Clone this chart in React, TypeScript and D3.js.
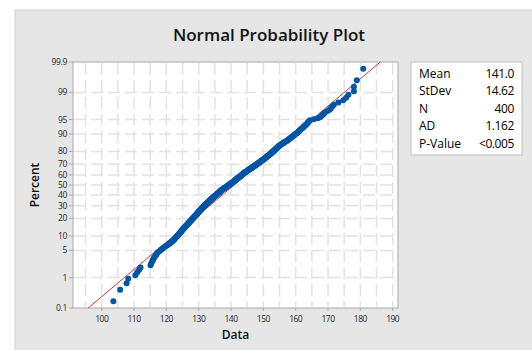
import React, { useRef, useEffect } from 'react';
import * as d3 from 'd3';

// sorted sample values (N = 400)
const sortedData = [
  // ranks 1-18
  103.6, 105.7, 107.7, 108.2, 110.4, 111.0, 111.6, 112.0,
  115.1, 115.3, 115.6, 115.8, 116.0, 116.2, 116.5, 116.8, 117.0, 117.2,
  // 19-46
  117.6, 118.0, 118.3, 118.7, 119.0, 119.4, 119.7, 120.1, 120.5,
  120.8, 121.1, 121.4, 121.6, 121.9, 122.1,
  122.3, 122.5, 122.6, 122.8, 123.0, 123.1, 123.3, 123.5, 123.6, 123.8, 123.9, 124.0, 124.2,
  // 47-91
  124.3, 124.4, 124.6, 124.7, 124.8, 124.9, 125.1, 125.2, 125.3, 125.4, 125.5, 125.7, 125.8,
  125.9, 126.0, 126.2, 126.3, 126.4, 126.5, 126.7, 126.8,
  126.9, 127.0, 127.1, 127.2, 127.3, 127.4, 127.5, 127.6, 127.7, 127.8, 127.9, 128.0,
  128.1, 128.2, 128.3, 128.4, 128.5, 128.6, 128.7, 128.8, 128.9, 129.0, 129.1, 129.2,
  // 92-146
  129.3, 129.4, 129.5, 129.5, 129.6, 129.7, 129.8, 129.9, 130.0, 130.1, 130.1, 130.2, 130.3,
  130.4, 130.5, 130.6, 130.6, 130.7, 130.8, 130.9, 131.0, 131.1, 131.1, 131.2, 131.3, 131.4,
  131.5, 131.6, 131.7, 131.8, 131.9, 132.0, 132.0, 132.1, 132.2, 132.3, 132.4, 132.5, 132.6,
  132.7, 132.8, 132.9, 132.9, 133.0, 133.1, 133.2, 133.3, 133.4, 133.5, 133.6, 133.6, 133.7,
  133.8, 133.9, 134.0,
  // 147-200
  134.1, 134.2, 134.3, 134.4, 134.5, 134.6, 134.6, 134.7, 134.8, 134.9, 135.0, 135.1, 135.2,
  135.3, 135.4, 135.5, 135.5, 135.6, 135.7, 135.8, 135.9, 136.0, 136.1, 136.2, 136.3, 136.4,
  136.4, 136.5, 136.6, 136.7, 136.8, 136.9, 137.0, 137.1,
  137.2, 137.3, 137.4, 137.6, 137.7, 137.8, 137.9, 138.0, 138.1, 138.2, 138.4, 138.5, 138.6,
  138.7, 138.8, 138.9, 139.0, 139.1, 139.2, 139.3,
  // 201-248
  139.4, 139.5, 139.6, 139.7, 139.8, 139.9, 140.0, 140.1, 140.2, 140.3, 140.4, 140.5, 140.6,
  140.7, 140.8, 140.9, 141.0, 141.1, 141.2, 141.3, 141.4, 141.5, 141.6, 141.7, 141.8, 141.9,
  142.0, 142.1, 142.2, 142.3, 142.4, 142.5, 142.7, 142.8,
  142.9, 143.0, 143.1, 143.2, 143.3, 143.3, 143.4, 143.5, 143.6, 143.7, 143.8, 143.8, 143.9, 144.0,
  // 249-291
  144.1, 144.2, 144.4, 144.5, 144.6, 144.7, 144.9, 145.0, 145.1, 145.2, 145.4, 145.5, 145.6,
  145.7, 145.8, 146.0, 146.1, 146.2, 146.3, 146.5, 146.6, 146.7, 146.8, 147.0, 147.1, 147.2,
  147.3, 147.5, 147.6, 147.7, 147.8, 147.9, 148.1, 148.2, 148.3, 148.4, 148.6, 148.7, 148.8,
  148.9, 149.1, 149.2, 149.3,
  // 292-337
  149.4, 149.6, 149.7, 149.8, 149.9, 150.1, 150.2, 150.3, 150.4, 150.6, 150.7, 150.8, 150.9,
  151.1, 151.2, 151.3, 151.4, 151.5, 151.7, 151.8, 151.9, 152.0, 152.2, 152.3, 152.4, 152.5,
  152.7, 152.8, 152.9, 153.0, 153.2, 153.3, 153.4, 153.5, 153.6, 153.8, 153.9, 154.0, 154.1,
  154.3, 154.4, 154.5, 154.6, 154.8, 154.9, 155.1,
  // 338-380
  155.3, 155.5, 155.7, 155.9, 156.1, 156.3, 156.5, 156.7, 156.9, 157.2, 157.4, 157.6, 157.8,
  158.0, 158.2, 158.4, 158.6, 158.8, 159.0, 159.2, 159.4, 159.6, 159.8, 160.1, 160.3, 160.5,
  160.7, 160.9, 161.1, 161.3,
  161.5, 161.8, 162.0, 162.3, 162.5, 162.7, 163.0, 163.2, 163.5, 163.7, 163.9, 164.2, 164.4,
  // 381-400
  165.6, 166.8, 167.5, 167.9, 168.3, 168.7, 169.0, 169.8, 170.5, 170.9, 171.3, 171.8,
  173.2, 174.7, 175.6, 176.3, 178.0, 178.0, 178.9, 180.9,
];

const percentTicks = [0.1, 1, 5, 10, 20, 30, 40, 50, 60, 70, 80, 90, 95, 99, 99.9];
const percentGrid = [1, 5, 10, 20, 30, 40, 50, 60, 70, 80, 90, 95, 99];
const dataTicks = [100, 110, 120, 130, 140, 150, 160, 170, 180, 190];
const dataGrid = [95, 100, 105, 110, 115, 120, 125, 130, 135, 140, 145, 150, 155, 160, 165, 170, 175, 180, 185, 190];

const statNames = ['Mean', 'StDev', 'N', 'AD', 'P-Value'];
const statValues = ['141.0', '14.62', '400', '1.162', '<0.005'];
const mean = 141.0;
const stdev = 14.62;

// inverse of the standard normal CDF (Acklam)
function probit(p: number): number {
  const a = [-39.69683028665376, 220.9460984245205, -275.9285104469687, 138.357751867269, -30.66479806614716, 2.506628277459239];
  const b = [-54.47609879822406, 161.5858368580409, -155.6989798598866, 66.80131188771972, -13.28068155288572];
  const c = [-0.007784894002430293, -0.3223964580411365, -2.400758277161838, -2.549671669764147, 4.374664141464968, 2.938163982698783];
  const d = [0.007784695709041462, 0.3224671290700398, 2.445134137142996, 3.754408661907416];
  const pl = 0.02425;
  if (p < pl) {
    const q = Math.sqrt(-2 * Math.log(p));
    return (((((c[0] * q + c[1]) * q + c[2]) * q + c[3]) * q + c[4]) * q + c[5]) /
      ((((d[0] * q + d[1]) * q + d[2]) * q + d[3]) * q + 1);
  }
  if (p > 1 - pl) {
    const q = Math.sqrt(-2 * Math.log(1 - p));
    return -(((((c[0] * q + c[1]) * q + c[2]) * q + c[3]) * q + c[4]) * q + c[5]) /
      ((((d[0] * q + d[1]) * q + d[2]) * q + d[3]) * q + 1);
  }
  const q = p - 0.5;
  const r = q * q;
  return (((((a[0] * r + a[1]) * r + a[2]) * r + a[3]) * r + a[4]) * r + a[5]) * q /
    (((((b[0] * r + b[1]) * r + b[2]) * r + b[3]) * r + b[4]) * r + 1);
}

const FONT = "'Open Sans', 'Noto Sans', sans-serif";

const ProbabilityPlot: React.FC = () => {
  const svgRef = useRef<SVGSVGElement | null>(null);
  const width = 532;
  const height = 350;
  const left = 73, right = 398, top = 62, bottom = 308;

  useEffect(() => {
    const svg = d3.select(svgRef.current);
    svg.selectAll('*').remove();

    const x = d3.scaleLinear().domain([91.12, 191.64]).range([left, right]);
    const y = d3.scaleLinear().domain([probit(0.001), probit(0.999)]).range([bottom, top]);
    const yp = (pct: number) => y(probit(pct / 100));

    svg.append('rect').attr('width', width).attr('height', height).attr('fill', '#ffffff');
    svg.append('rect')
      .attr('x', 15).attr('y', 10).attr('width', width).attr('height', height)
      .attr('fill', '#e6e6e6').attr('stroke', '#cfcfcf');

    // title
    svg.append('text')
      .attr('x', 269).attr('y', 40.5)
      .attr('text-anchor', 'middle')
      .attr('font-family', FONT).attr('font-size', 17).attr('font-weight', 600)
      .attr('fill', '#111')
      .text('Normal Probability Plot');

    // plot area
    svg.append('rect')
      .attr('x', left).attr('y', top).attr('width', right - left).attr('height', bottom - top)
      .attr('fill', '#ffffff');

    const grid = svg.append('g')
      .attr('stroke', '#e2e2e2').attr('stroke-width', 1.5).attr('stroke-dasharray', '12 5');
    grid.selectAll('line.v').data(dataGrid).join('line')
      .attr('class', 'v')
      .attr('x1', d => x(d)).attr('x2', d => x(d))
      .attr('y1', top + 1).attr('y2', bottom - 1);
    grid.selectAll('line.h').data(percentGrid).join('line')
      .attr('class', 'h')
      .attr('x1', left + 1).attr('x2', right - 1)
      .attr('y1', d => yp(d)).attr('y2', d => yp(d));

    svg.append('rect')
      .attr('x', left).attr('y', top).attr('width', right - left).attr('height', bottom - top)
      .attr('fill', 'none').attr('stroke', '#a8a8a8').attr('stroke-width', 1);

    // y axis
    const yAxis = svg.append('g');
    yAxis.selectAll('line').data(percentTicks).join('line')
      .attr('x1', left - 4).attr('x2', left)
      .attr('y1', d => yp(d)).attr('y2', d => yp(d))
      .attr('stroke', '#a8a8a8');
    yAxis.selectAll('text').data(percentTicks).join('text')
      .attr('x', left - 6).attr('y', d => yp(d))
      .attr('dy', '0.35em')
      .attr('text-anchor', 'end')
      .attr('font-family', FONT).attr('font-size', 8.5).attr('fill', '#1f1f1f')
      .attr('letter-spacing', -0.3)
      .text(d => String(d));

    // x axis
    const xAxis = svg.append('g');
    xAxis.selectAll('line').data(dataTicks).join('line')
      .attr('x1', d => x(d)).attr('x2', d => x(d))
      .attr('y1', bottom).attr('y2', bottom + 3)
      .attr('stroke', '#a8a8a8');
    xAxis.selectAll('text').data(dataTicks).join('text')
      .attr('x', d => x(d)).attr('y', 322)
      .attr('text-anchor', 'middle')
      .attr('font-family', FONT).attr('font-size', 8.5).attr('fill', '#1f1f1f')
      .attr('letter-spacing', -0.5)
      .text(d => String(d));

    svg.append('text')
      .attr('x', (left + right) / 2).attr('y', 339)
      .attr('text-anchor', 'middle')
      .attr('font-family', FONT).attr('font-size', 12).attr('font-weight', 600)
      .attr('fill', '#111')
      .text('Data');
    svg.append('text')
      .attr('transform', `translate(38.5,${(top + bottom) / 2}) rotate(-90)`)
      .attr('text-anchor', 'middle')
      .attr('font-family', FONT).attr('font-size', 12).attr('font-weight', 600)
      .attr('fill', '#111')
      .text('Percent');

    // fitted line
    const zLo = probit(0.001), zHi = probit(0.999);
    svg.append('line')
      .attr('x1', x(mean + stdev * zLo)).attr('y1', y(zLo))
      .attr('x2', x(mean + stdev * zHi)).attr('y2', y(zHi))
      .attr('stroke', '#c0272d').attr('stroke-width', 0.9);

    // points (median rank plotting positions)
    const n = sortedData.length;
    svg.append('g').selectAll('circle').data(sortedData).join('circle')
      .attr('cx', d => x(d))
      .attr('cy', (_d, i) => y(probit((i + 1 - 0.3) / (n + 0.4))))
      .attr('r', 3)
      .attr('fill', '#0055a5');

    // stats box
    const box = svg.append('g');
    box.append('rect')
      .attr('x', 411).attr('y', 62).attr('width', 111).attr('height', 93)
      .attr('fill', '#ffffff').attr('stroke', '#bdbdbd');
    box.selectAll('text.name').data(statNames).join('text')
      .attr('class', 'name')
      .attr('x', 419).attr('y', (_d, i) => 77.5 + i * 17.5)
      .attr('font-family', FONT).attr('font-size', 12).attr('fill', '#000')
      .text(d => d);
    box.selectAll('text.val').data(statValues).join('text')
      .attr('class', 'val')
      .attr('x', 514).attr('y', (_d, i) => 77.5 + i * 17.5)
      .attr('text-anchor', 'end')
      .attr('font-family', FONT).attr('font-size', 12).attr('fill', '#000')
      .attr('letter-spacing', -0.4)
      .text(d => d);
  }, []);

  return (
    <svg
      ref={svgRef}
      width={width}
      height={height}
      style={{ position: 'absolute', left: 0, top: 0, display: 'block' }}
    />
  );
};

export default function App() {
  return <ProbabilityPlot />;
}
